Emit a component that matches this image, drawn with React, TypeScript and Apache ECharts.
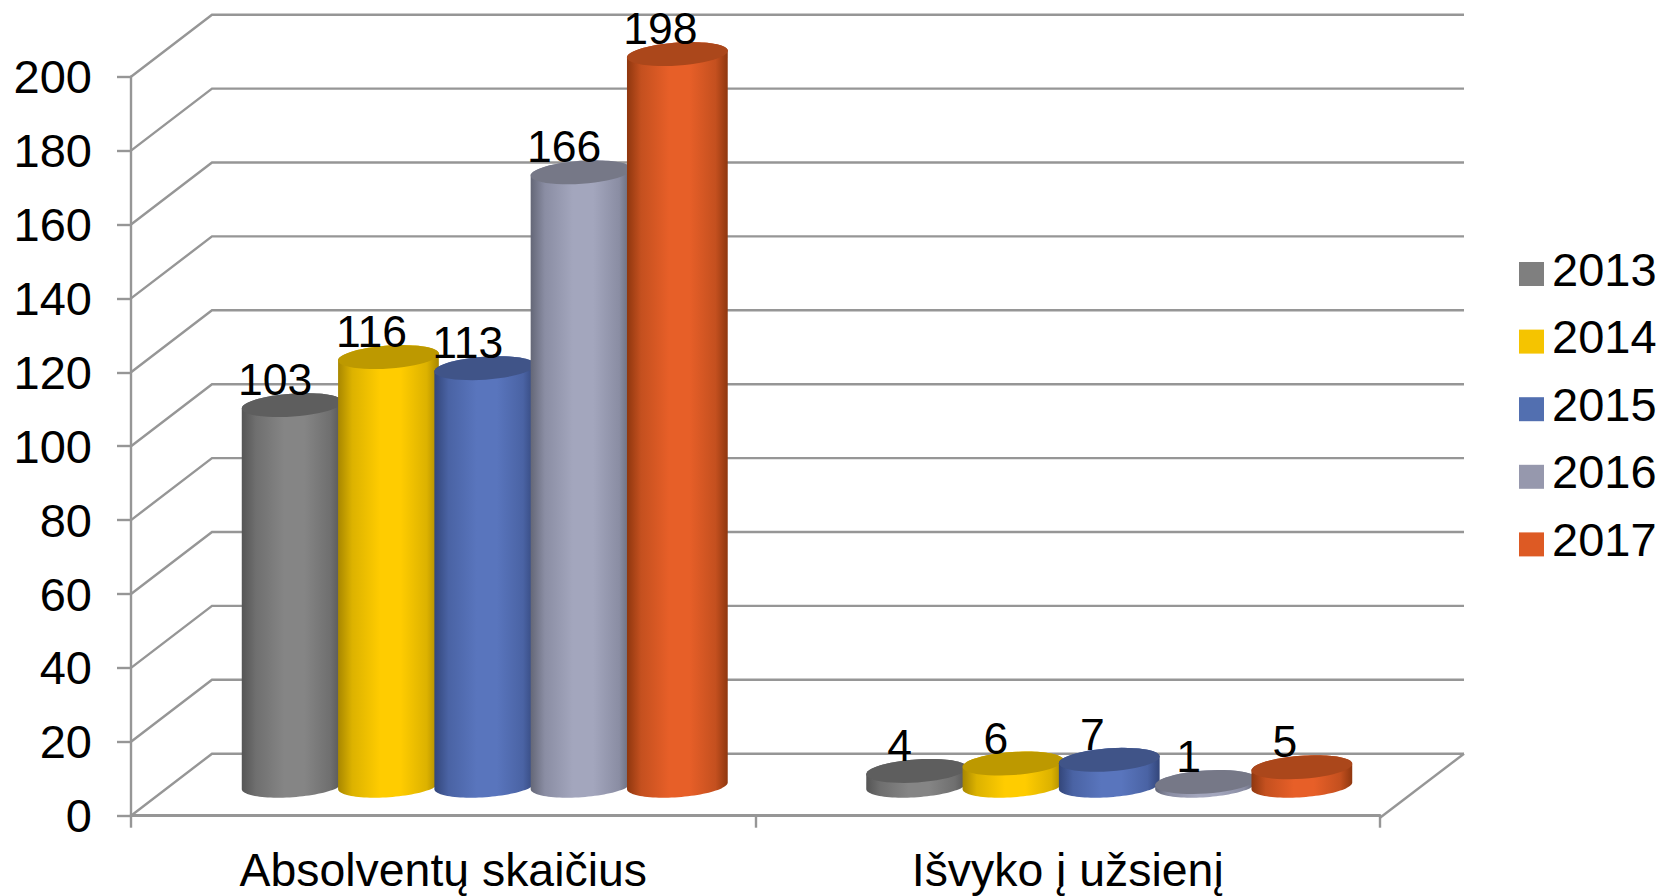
import React, { useEffect, useRef } from "react";
import * as echarts from "echarts";

const categories = ["Absolventų skaičius", "Išvyko į užsienį"];
const yearNames = ["2013", "2014", "2015", "2016", "2017"];
const values2013 = [103, 4];
const values2014 = [116, 6];
const values2015 = [113, 7];
const values2016 = [166, 1];
const values2017 = [198, 5];
const yearValues = [values2013, values2014, values2015, values2016, values2017];
const yTicks = [0, 20, 40, 60, 80, 100, 120, 140, 160, 180, 200];

const legendColors = ["#7f7f7f", "#f5c400", "#526fb0", "#9698ad", "#dd5a24"];
const topColors = ["#5e5e5e", "#bd9900", "#405488", "#767887", "#ab471b"];
const edgeColors = ["#555555", "#a88700", "#33467a", "#646777", "#8f370f"];
const shoulderColors = ["#6f6f6f", "#dcb200", "#4a63a4", "#8a8da3", "#c4501f"];
const midColors = ["#858585", "#ffcc00", "#5975bd", "#a3a6bd", "#e75f28"];

const FONT = '"Liberation Sans", Arial, sans-serif';
const LINE = "#969696";
const DEPTH_X = 81;
const DEPTH_X_RIGHT = 84;
const DEPTH_Y = 62;
const BAR_DEPTH_Y = 30;
const BAR_STEP = 96.3;
const RX = 50.5;
const RY = 11.5;
const TILT = 4;
const ELLIPSE_STEPS = 48;

// Point on the tilted ellipse rim; t = 0 is the right end, t = PI the left end, going through the front (lower) side.
function rim(cx: number, cy: number, t: number): [number, number] {
  const a = (TILT * Math.PI) / 180;
  const ex = RX * Math.cos(t);
  const ey = RY * Math.sin(t);
  return [cx + ex * Math.cos(a) + ey * Math.sin(a), cy - ex * Math.sin(a) + ey * Math.cos(a)];
}

function arcPoints(cx: number, cy: number, from: number, to: number) {
  const pts: [number, number][] = [];
  for (let k = 0; k <= ELLIPSE_STEPS; k++) {
    pts.push(rim(cx, cy, from + ((to - from) * k) / ELLIPSE_STEPS));
  }
  return pts;
}

function cylinderRenderer(seriesIndex: number) {
  return (_params: any, api: any) => {
    const cat = api.value(0);
    const val = api.value(1);
    const top = api.coord([cat, val]);
    const base = api.coord([cat, 0]);
    const cx = top[0] + DEPTH_X / 2 + 1 + (seriesIndex - 2) * BAR_STEP;
    const yTop = top[1] - BAR_DEPTH_Y;
    const yBase = base[1] - BAR_DEPTH_Y;
    const sidePts = [
      ...arcPoints(cx, yBase, 0, Math.PI),
      ...arcPoints(cx, yTop, Math.PI, 2 * Math.PI),
    ];
    const capPts = arcPoints(cx, yTop, 0, 2 * Math.PI);
    return {
      type: "group",
      children: [
        {
          type: "polygon",
          shape: { points: sidePts },
          style: {
            fill: new echarts.graphic.LinearGradient(0, 0, 1, 0, [
              { offset: 0, color: edgeColors[seriesIndex] },
              { offset: 0.14, color: shoulderColors[seriesIndex] },
              { offset: 0.42, color: midColors[seriesIndex] },
              { offset: 0.62, color: midColors[seriesIndex] },
              { offset: 0.88, color: shoulderColors[seriesIndex] },
              { offset: 1, color: edgeColors[seriesIndex] },
            ]),
          },
        },
        {
          type: "polygon",
          shape: { points: capPts },
          style: { fill: topColors[seriesIndex] },
        },
        {
          type: "text",
          z2: 50,
          style: {
            text: String(val),
            x: cx - 17,
            y: yTop - 25.5,
            align: "center",
            verticalAlign: "middle",
            font: `44.5px ${FONT}`,
            fill: "#000000",
          },
        },
      ],
    };
  };
}

function wallRenderer(params: any, api: any) {
  const v = api.value(1);
  const p = api.coord([0, v]);
  const cs = params.coordSys;
  const left = cs.x;
  const right = cs.x + cs.width;
  const y = p[1];
  const children: any[] = [
    {
      type: "polyline",
      shape: {
        points: [
          [left, y],
          [left + DEPTH_X, y - DEPTH_Y],
          [right + DEPTH_X_RIGHT, y - DEPTH_Y],
        ],
      },
      style: { fill: "none", stroke: LINE, lineWidth: 2.4 },
    },
  ];
  if (v === 0) {
    children.push({
      type: "line",
      shape: { x1: right, y1: y + 2, x2: right + DEPTH_X_RIGHT, y2: y - DEPTH_Y },
      style: { stroke: LINE, lineWidth: 2.4 },
    });
  }
  return { type: "group", children };
}

export default function App() {
  const ref = useRef<HTMLDivElement>(null);
  useEffect(() => {
    const chart = echarts.init(ref.current!, undefined, { renderer: "svg" });
    const cylinderSeries = yearNames.map((name, i) => ({
      type: "custom",
      name,
      coordinateSystem: "cartesian2d",
      renderItem: cylinderRenderer(i),
      itemStyle: { color: legendColors[i] },
      encode: { x: 0, y: 1 },
      clip: false,
      silent: true,
      data: yearValues[i].map((v, c) => [c, v]),
    }));
    chart.setOption({
      animation: false,
      backgroundColor: "#ffffff",
      grid: { left: 131, right: 281, top: 76.7, bottom: 80.3 },
      legend: {
        data: yearNames,
        orient: "vertical",
        left: 1519,
        top: 245.5,
        padding: 0,
        icon: "rect",
        itemWidth: 25,
        itemHeight: 24,
        itemGap: 20.6,
        selectedMode: false,
        formatter: "{y|{name}}",
        textStyle: {
          fontFamily: FONT,
          fontSize: 47,
          color: "#000000",
          rich: { y: { fontFamily: FONT, fontSize: 47, color: "#000000", padding: [0, 0, 10, 3] } },
        },
      },
      xAxis: {
        type: "category",
        data: categories,
        offset: 2,
        axisLine: { show: true, lineStyle: { color: LINE, width: 3 } },
        axisTick: { show: true, length: 12, lineStyle: { color: LINE, width: 2.4 } },
        axisLabel: { fontFamily: FONT, fontSize: 46.4, color: "#000000", margin: 29 },
        splitLine: { show: false },
      },
      yAxis: {
        type: "value",
        min: 0,
        max: 200,
        interval: 20,
        axisLine: { show: true, lineStyle: { color: LINE, width: 2.4 } },
        axisTick: { show: true, length: 14, lineStyle: { color: LINE, width: 2.4 } },
        axisLabel: { fontFamily: FONT, fontSize: 47, color: "#000000", margin: 39 },
        splitLine: { show: false },
      },
      series: [
        {
          type: "custom",
          name: "walls",
          coordinateSystem: "cartesian2d",
          renderItem: wallRenderer,
          encode: { x: 0, y: 1 },
          clip: false,
          silent: true,
          data: yTicks.map((v) => [0, v]),
        },
        ...cylinderSeries,
      ],
    });
    return () => chart.dispose();
  }, []);
  return (
    <div
      ref={ref}
      style={{ position: "fixed", left: 0, top: 0, width: 1661, height: 896 }}
    />
  );
}
